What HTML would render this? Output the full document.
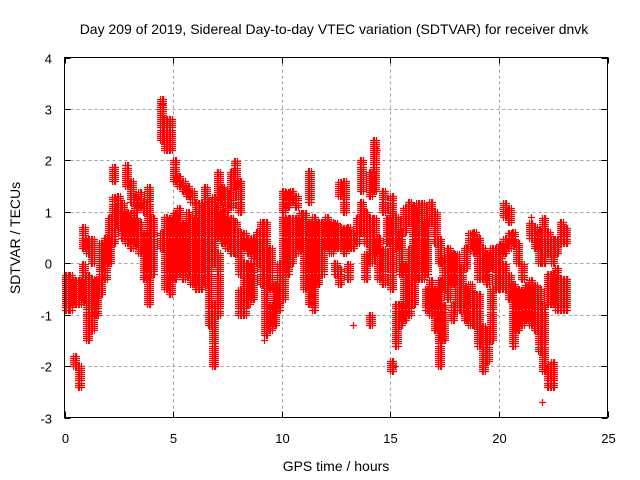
<!DOCTYPE html>
<html><head><meta charset="utf-8"><style>
body{margin:0;background:#fff}
svg{display:block;font-family:"Liberation Sans",sans-serif}
</style></head><body>
<svg id="chart" width="640" height="480" viewBox="0 0 640 480" xmlns="http://www.w3.org/2000/svg">
<rect width="640" height="480" fill="#fff"/>
<text x="334" y="34" font-size="14" text-anchor="middle">Day 209 of 2019, Sidereal Day-to-day VTEC variation (SDTVAR) for receiver dnvk</text>
<g id="grid"></g>
<g id="marks"></g>
<rect x="64.5" y="57.5" width="543" height="360" fill="none" stroke="#000" stroke-width="1"/>
<g id="axes"></g>
<text x="336" y="471" font-size="14" text-anchor="middle">GPS time / hours</text>
<text x="20" y="238" font-size="14" text-anchor="middle" transform="rotate(-90 20 238)">SDTVAR / TECUs</text>
</svg>
<script>
const xTicks=[0,5,10,15,20,25];
const yTicks=[-3,-2,-1,0,1,2,3,4];
const times=[0,0.2,0.4,0.6,0.8,1.0,1.2,1.4,1.6,1.8,2.0,2.2,2.4,2.6,2.8,3.0,3.2,3.4,3.6,3.8,4.0,4.4,4.6,4.8,5.0,5.2,5.4,5.6,5.8,6.0,6.2,6.4,6.6,6.8,7.0,7.2,7.4,7.6,7.8,8.0,8.2,8.4,8.6,8.8,9.0,9.2,9.4,9.6,9.8,10.0,10.2,10.4,10.6,10.8,11.0,11.2,11.4,11.6,11.8,12.0,12.2,12.4,12.6,12.8,13.0,13.2,13.4,13.6,13.8,14.0,14.2,14.4,14.6,14.8,15.0,15.2,15.4,15.6,15.8,16.0,16.2,16.4,16.6,16.8,17.0,17.2,17.4,17.6,17.8,18.0,18.2,18.4,18.6,18.8,19.0,19.2,19.4,19.6,19.8,20.0,20.2,20.4,20.6,20.8,21.0,21.2,21.4,21.6,21.8,22.0,22.2,22.4,22.6,22.8,23.0];
const ranges=[
[[-0.9,-0.2]],[[-0.9,-0.2]],[[-0.8,-0.3],[-2.0,-1.8]],[[-0.8,-0.3],[-2.4,-2.0]],[[-0.7,0.0],[0.3,0.7]],
[[-1.5,-0.2],[0.2,0.5]],[[-1.3,-0.3],[0.0,0.5]],[[-1.0,-0.3]],[[-0.6,0.4]],[[-0.3,0.5]],
[[0.0,0.9]],[[0.4,1.3],[1.6,1.9]],[[0.7,1.3]],[[0.5,1.2]],[[0.4,1.0],[1.5,1.9]],
[[0.3,1.0],[1.2,1.6]],[[0.4,0.9],[1.0,1.3]],[[0.2,0.8],[1.1,1.4]],[[-0.3,0.6],[1.0,1.2]],[[-0.8,1.5]],
[[-0.2,0.9]],[[0.3,0.6],[2.4,3.2]],[[-0.5,0.9],[2.2,2.8]],[[-0.6,0.9],[2.2,2.8]],[[-0.3,1.0],[1.6,2.0]],
[[-0.2,1.1],[1.5,1.7]],[[-0.3,0.8],[1.4,1.6]],[[-0.2,1.0],[1.3,1.5]],[[-0.4,0.9],[1.2,1.4]],[[-0.5,1.2]],
[[-0.5,1.2]],[[-0.4,1.5]],[[-1.2,1.2]],[[-2.0,-0.8],[0.0,1.3]],[[-1.0,0.2],[0.5,1.8]],
[[0.4,1.0],[1.2,1.5]],[[0.3,0.9],[1.0,1.4]],[[0.2,0.9],[1.1,1.8]],[[0.2,0.8],[1.5,2.0]],[[-0.2,0.6],[-1.0,-0.5],[1.0,1.6]],
[[0.3,0.6],[-1.0,0.0]],[[0.2,0.5],[-0.8,0.0]],[[0.1,0.5],[-0.7,0.0]],[[0.0,0.6]],[[-0.4,0.8]],
[[-1.4,0.8]],[[-1.3,-0.8],[-0.5,0.3]],[[-1.2,-0.4]],[[-0.9,0.0]],[[-0.7,0.9],[1.0,1.4]],
[[-0.2,0.9],[1.1,1.4]],[[0.0,0.9],[1.2,1.4]],[[0.2,0.9],[1.1,1.3]],[[0.3,1.0]],[[-0.5,1.0]],
[[-0.8,0.8],[1.2,1.8]],[[-0.9,0.9]],[[-0.4,0.8]],[[-0.2,0.8]],[[0.3,0.9]],
[[0.2,0.8]],[[0.3,0.8],[-0.2,0.0]],[[0.3,0.7],[-0.4,-0.1],[1.3,1.6]],[[0.2,0.7],[1.0,1.6]],[[0.3,0.7],[-0.3,0.0]],
[[0.3,0.6]],[[0.4,0.9]],[[0.6,1.2],[1.4,2.0]],[[0.4,1.0],[-0.3,0.2]],[[0.0,0.9],[1.3,1.8],[-1.2,-1.0]],
[[0.2,0.9],[1.4,2.4]],[[-0.3,0.5]],[[-0.4,0.3],[1.0,1.4]],[[0.4,0.9]],[[-0.5,1.3],[-2.1,-1.9]],
[[-1.6,-0.8],[0.3,0.9]],[[-1.2,-0.8],[-0.2,0.6]],[[-1.1,0.0],[0.6,1.1]],[[-1.0,0.3],[0.8,1.2]],[[-0.8,1.1]],
[[-0.3,1.2]],[[-0.3,1.2]],[[-0.2,0.8],[-0.9,-0.5]],[[-1.0,-0.3],[0.8,1.2]],[[-1.3,-0.5],[0.4,1.0]],
[[-2.0,-0.3],[0.0,0.5]],[[-1.5,-0.8],[-0.5,0.1]],[[-0.7,0.3]],[[-0.4,0.2],[-1.1,-0.8]],[[-0.9,0.2]],
[[-0.9,-0.1]],[[-1.1,-0.5],[-0.1,0.3]],[[-1.2,-0.4],[0.3,0.6]],[[-1.2,-0.6],[0.2,0.6]],[[-1.6,-0.6],[-0.3,0.5]],
[[-2.1,-1.2],[-0.3,0.3]],[[-1.9,-1.3],[-0.4,0.2]],[[-1.5,-0.5],[-0.1,0.3]],[[-0.5,0.3]],[[-0.5,0.0],[0.1,0.4]],
[[-0.5,0.0],[0.2,0.5],[0.9,1.2]],[[-0.7,-0.2],[0.3,0.6],[0.8,1.1]],[[-1.6,-0.4],[0.4,0.6]],[[-1.3,-0.5],[0.0,0.4]],[[-1.2,-0.5],[-0.3,0.0]],
[[-1.1,-0.4]],[[-1.2,-0.3],[0.5,0.8]],[[-1.3,-0.4],[0.3,0.7]],[[-1.7,-0.5],[0.0,0.6]],[[-2.1,-0.8],[0.4,0.9],[0.0,0.3]],
[[-2.4,-2.0],[-0.8,-0.2],[0.2,0.6]],[[-2.4,-1.9],[-0.8,-0.2],[0.0,0.5]],[[-0.9,-0.1],[0.2,0.5]],[[-0.9,-0.3],[0.4,0.8]],[[-0.9,-0.3],[0.4,0.7]]
];
const outlierT=[22.0,4.5,13.3,15.2,3.9,9.2,21.5,14.4];
const outlierV=[-2.7,3.1,-1.2,-2.0,-0.8,-1.5,0.9,2.2];

const X0=64.5,X1=607.5,Y0=417.5,Y1=57.5;
function sx(t){return X0+(t-0)/(25-0)*(X1-X0);}
function sy(v){return Y0-(v+3)/(4+3)*(Y0-Y1);}
const NS="http://www.w3.org/2000/svg";
const grid=document.getElementById('grid'),axes=document.getElementById('axes'),marks=document.getElementById('marks');
function mk(tag,attrs,parent){const e=document.createElementNS(NS,tag);for(const k in attrs)e.setAttribute(k,attrs[k]);parent.appendChild(e);return e;}
xTicks.forEach(t=>{const x=Math.round(sx(t))+0.5;
 if(t>0&&t<25){const g=mk('line',{x1:x,x2:x,y1:Y1,y2:Y0,stroke:'#a0a0a0','stroke-dasharray':'3,3'},grid);
 
 }
 mk('line',{x1:x,x2:x,y1:Y0,y2:Y0-6,stroke:'#000'},axes);mk('line',{x1:x,x2:x,y1:Y1,y2:Y1+6,stroke:'#000'},axes);
 const l=mk('text',{x:x,y:443,'font-size':13,'text-anchor':'middle'},axes);l.textContent=t;
 
 });
yTicks.forEach(v=>{const y=Math.round(sy(v))+0.5;
 if(v>-3&&v<4){const g=mk('line',{x1:X0,x2:X1,y1:y,y2:y,stroke:'#a0a0a0','stroke-dasharray':'3,3'},grid);
 
 }
 mk('line',{x1:X0,x2:X0+6,y1:y,y2:y,stroke:'#000'},axes);mk('line',{x1:X1,x2:X1-6,y1:y,y2:y,stroke:'#000'},axes);
 const l=mk('text',{x:52,y:y+5,'font-size':13,'text-anchor':'end'},axes);l.textContent=v;
 
 });
let d='';
function cross(t,v){const x=Math.round(sx(t))+0.5,y=Math.round(sy(v))+0.5;d+=`M${x-3.5} ${y}H${x+3.5}M${x} ${y-3.5}V${y+3.5}`;}
times.forEach((t,i)=>{(ranges[i]||[]).forEach(r=>{
 for(const dt of [0,0.07,0.14]){for(let v=r[0];v<=r[1]+1e-9;v+=0.04)cross(t+dt,v);}
});});
outlierT.forEach((t,i)=>cross(t,outlierV[i]));
const p=mk('path',{d:d,stroke:'#ff0000','stroke-width':1.2,fill:'none'},marks);


</script>
</body></html>
